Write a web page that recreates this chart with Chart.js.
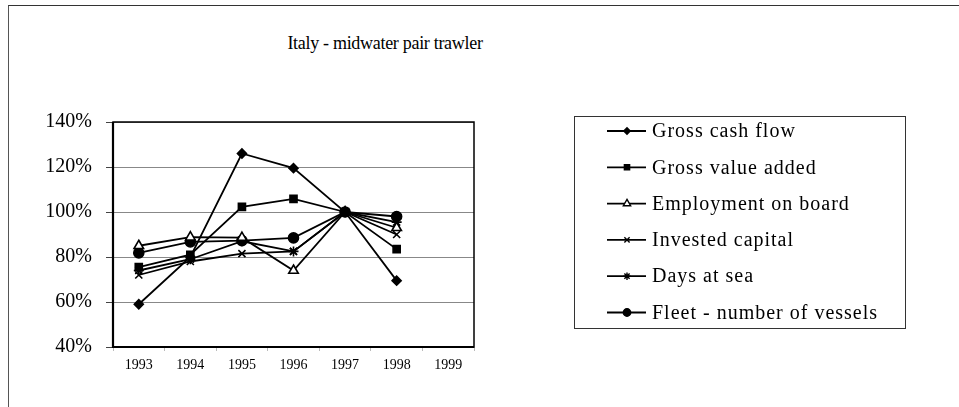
<!DOCTYPE html>
<html>
<head>
<meta charset="utf-8">
<script src="https://cdn.jsdelivr.net/npm/chart.js@4/dist/chart.umd.min.js"></script>
<style>
  body { margin: 0; background: #fff; }
  #wrap { position: relative; width: 959px; height: 407px; overflow: hidden; }
  #frame { position: absolute; left: 8px; top: 5px; width: 960px; height: 410px;
           border-top: 1px solid #333; border-left: 1px solid #555; }
  #title { position: absolute; left: 235px; width: 300px; top: 33px; text-align: center;
           font: 18px "Liberation Serif", serif; letter-spacing: -0.3px; color: #000; }
  canvas { position: absolute; left: 0; top: 0; }
</style>
</head>
<body>
<div id="wrap">
  <div id="frame"></div>
  <div id="title">Italy - midwater pair trawler</div>
  <canvas id="myChart" width="959" height="407"></canvas>
</div>
<script>
let years = ["1993","1994","1995","1996","1997","1998","1999"];
let seriesNames = ["Gross cash flow","Gross value added","Employment on board","Invested capital","Days at sea","Fleet - number of vessels"];
let grossCashFlow   = [59, 80, 126, 119.5, 100, 69.5, null];
let grossValueAdded = [75.5, 81, 102.3, 105.8, 100, 83.5, null];
let employment      = [85, 88.8, 88.6, 74, 100, 93, null];
let investedCapital = [72, 78, 81.5, 82.5, 100, 90, null];
let daysAtSea       = [74, 79, 87, 82.5, 100, 95.5, null];
let fleet           = [81.8, 86.7, 87.3, 88.5, 100, 98, null];
let yTicks = [40, 60, 80, 100, 120, 140];

const styles = [
    {pointStyle: "rectRot", radius: 4.5, fill: "#000"},
    {pointStyle: "rect", radius: 5, fill: "#000"},
    {pointStyle: "triangle", radius: 5.5, fill: "#fff"},
    {pointStyle: "crossRot", radius: 5, fill: "#000"},
    {pointStyle: "star", radius: 5, fill: "#000"},
    {pointStyle: "circle", radius: 5, fill: "#000"}
];
const allData = [grossCashFlow, grossValueAdded, employment, investedCapital, daysAtSea, fleet];

let datasets = allData.map((d, i) => ({
    label: seriesNames[i],
    data: d,
    borderColor: "#000",
    borderWidth: 1.8,
    pointStyle: styles[i].pointStyle,
    pointRadius: styles[i].radius,
    pointBackgroundColor: styles[i].fill,
    pointBorderColor: "#000",
    pointBorderWidth: 1.6,
    tension: 0
}));

const frameAndLegend = {
    id: "frameAndLegend",
    beforeDatasetsDraw(chart) {
        const a = chart.chartArea, ctx = chart.ctx;
        ctx.save();
        ctx.strokeStyle = "#000";
        ctx.lineWidth = 1.5;
        ctx.strokeRect(a.left, a.top, a.right - a.left, a.bottom - a.top);
        ctx.lineWidth = 2.2;
        ctx.beginPath();
        ctx.moveTo(a.left, a.top); ctx.lineTo(a.left, a.bottom); ctx.lineTo(a.right, a.bottom);
        ctx.stroke();
        ctx.restore();
    },
    afterDraw(chart) {
        const ctx = chart.ctx;
        ctx.save();
        ctx.strokeStyle = "#333";
        ctx.lineWidth = 1;
        ctx.strokeRect(574.5, 116.5, 331, 212);
        ctx.font = '20px "Liberation Serif", serif';
        ctx.letterSpacing = "1px";
        ctx.textBaseline = "middle";
        ctx.fillStyle = "#000";
        for (let i = 0; i < seriesNames.length; i++) {
            let y = 131 + i * 36.3;
            ctx.strokeStyle = "#000";
            ctx.lineWidth = 1.8;
            ctx.beginPath(); ctx.moveTo(607, y); ctx.lineTo(646, y); ctx.stroke();
            ctx.fillStyle = styles[i].fill;
            ctx.lineWidth = 1.4;
            Chart.helpers.drawPoint(ctx, {pointStyle: styles[i].pointStyle, radius: styles[i].radius - 1.3, borderWidth: 1.4, rotation: 0}, 627, y);
            ctx.fillStyle = "#000";
            ctx.fillText(seriesNames[i], 652, y + 1);
        }
        ctx.restore();
    }
};

new Chart("myChart", {
    type: "line",
    data: { labels: years, datasets: datasets },
    options: {
        responsive: false,
        animation: false,
        layout: { padding: { left: 0, right: 485, top: 122, bottom: 29 } },
        plugins: { legend: { display: false }, title: { display: false }, tooltip: { enabled: false } },
        scales: {
            x: {
                offset: true,
                afterFit: (s) => { s.height = 31; },
                grid: { display: true, drawOnChartArea: false, offset: true, tickLength: 4, color: "#bbb" },
                border: { display: false },
                ticks: { color: "#000", padding: 6, maxRotation: 0, font: { family: "Liberation Serif", size: 14 } }
            },
            y: {
                min: 40, max: 140,
                afterFit: (s) => { s.width = 113; },
                afterBuildTicks: (s) => { s.ticks = yTicks.map(v => ({value: v})); },
                grid: { color: "#888", lineWidth: 1, tickLength: 7, tickColor: "#444" },
                border: { display: false },
                ticks: { color: "#000", padding: 14, font: { family: "Liberation Serif", size: 20 },
                         callback: (v) => v + "%" }
            }
        }
    },
    plugins: [frameAndLegend]
});
</script>
</body>
</html>
